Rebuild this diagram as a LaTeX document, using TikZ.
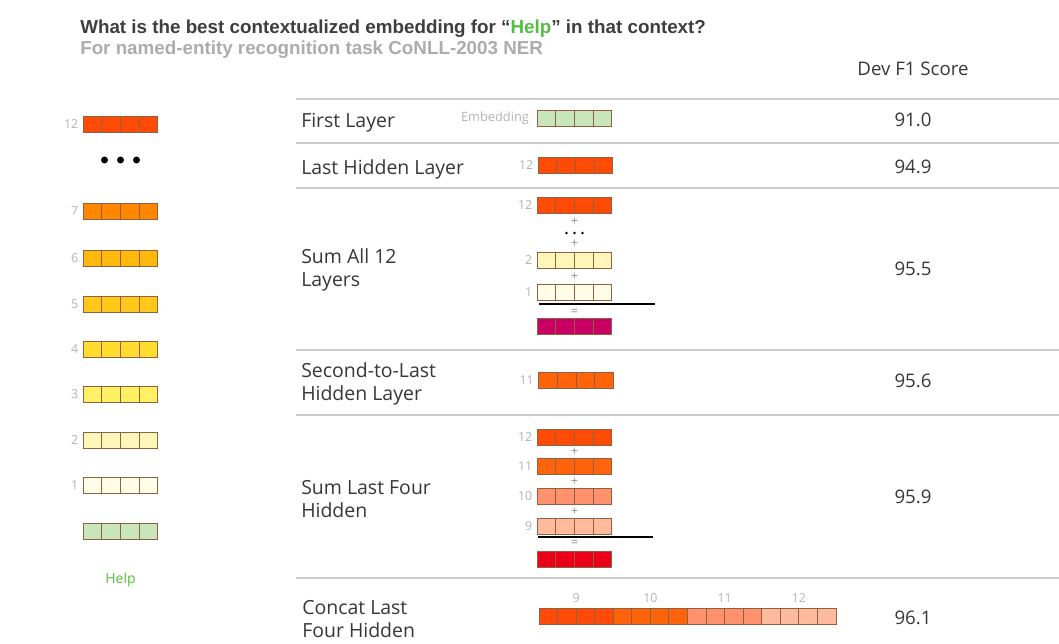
\documentclass[tikz,border=0pt]{standalone}
\usepackage{fontspec}
\setmainfont{Open Sans}
\newfontfamily\headfont{Liberation Sans}
\usetikzlibrary{positioning,calc}
\definecolor{titlegray}{RGB}{62,62,66}
\definecolor{subgray}{RGB}{172,172,172}
\definecolor{textgray}{RGB}{55,55,55}
\definecolor{numgray}{RGB}{180,180,180}
\definecolor{opgray}{RGB}{145,145,145}
\definecolor{rulegray}{RGB}{205,205,205}
\definecolor{cellborder}{RGB}{145,95,65}
\definecolor{helpgreen}{RGB}{85,190,65}
\definecolor{lay12}{RGB}{255,75,5}
\definecolor{lay11}{RGB}{255,100,10}
\definecolor{lay10}{RGB}{255,145,108}
\definecolor{lay9}{RGB}{255,187,157}
\definecolor{lay7}{RGB}{255,135,0}
\definecolor{lay6}{RGB}{255,185,10}
\definecolor{lay5}{RGB}{255,200,25}
\definecolor{lay4}{RGB}{255,220,45}
\definecolor{lay3}{RGB}{255,240,100}
\definecolor{lay2}{RGB}{255,247,185}
\definecolor{lay1}{RGB}{255,253,232}
\definecolor{layemb}{RGB}{200,230,185}
\definecolor{sumall}{RGB}{200,0,100}
\definecolor{sumfour}{RGB}{235,0,25}

% one embedding vector of four cells
\newcommand{\embvec}[4]{%
  \node[vec, fill=#4] (#1) at (#2,#3) {};
  \foreach \k in {1,2,3}
    \draw[cellsep] ($(#1.south west)!\k/4!(#1.south east)$) -- ($(#1.north west)!\k/4!(#1.north east)$);
}

\begin{document}
\begin{tikzpicture}[
    x=0.75pt, y=-0.75pt,
    vec/.style={draw=cellborder, line width=0.7pt, minimum width=56pt, minimum height=12pt, inner sep=0pt, outer sep=0pt},
    cellsep/.style={draw=cellborder, line width=0.7pt},
    lnum/.style={font=\fontsize{9.3}{11}\selectfont, text=numgray, inner sep=0pt},
    op/.style={font=\fontsize{9.5}{10}\selectfont, text=opgray, inner sep=0pt},
    rowlabel/.style={anchor=west, align=left, font=\fontsize{14.6}{17.3}\selectfont, text=textgray, inner sep=0pt},
    score/.style={font=\fontsize{14}{17}\selectfont, text=textgray, inner sep=0pt},
    rowline/.style={draw=rulegray, line width=1.1pt},
    sumline/.style={draw=black, line width=1.1pt}
]
\useasboundingbox[fill=white] (0,0) rectangle (1059,643);

% heading
\node[anchor=base west, inner sep=0pt, font=\headfont\bfseries\fontsize{14.1}{16}\selectfont, text=titlegray] (title) at (80,33)
  {What is the best contextualized embedding for “\textcolor{helpgreen}{Help}” in that context?};
\node[anchor=base west, inner sep=0pt, font=\headfont\bfseries\fontsize{14.1}{16}\selectfont, text=subgray] (subtitle) at (80,54)
  {For named-entity recognition task CoNLL-2003 NER};
\node[score] (devf1) at (913,69) {Dev F1 Score};

% left column: layers of "Help"
\embvec{l12}{120.5}{124}{lay12}
\embvec{l7}{120.5}{211}{lay7}
\embvec{l6}{120.5}{258}{lay6}
\embvec{l5}{120.5}{304}{lay5}
\embvec{l4}{120.5}{349.5}{lay4}
\embvec{l3}{120.5}{394.5}{lay3}
\embvec{l2}{120.5}{440}{lay2}
\embvec{l1}{120.5}{485.5}{lay1}
\embvec{lemb}{120.5}{531}{layemb}
\foreach \n in {12,7,6,5,4,3,2,1}
  \node[lnum, left=3.5pt of l\n] (ln\n) {\n};
\foreach \dx in {-16,0,16}
  \fill (120.5+\dx,160) circle[radius=2.6pt];
\node[font=\fontsize{10.5}{12}\selectfont, text=helpgreen] (help) at (120.5,580) {Help};

% table rules
\foreach \yy in {99,143,188,350,415,578}
  \draw[rowline] (296,\yy) -- (1059,\yy);

% row labels and scores
\node[rowlabel] (r1) at (301,122.5) {First Layer};
\node[rowlabel] (r2) at (301,169.5) {Last Hidden Layer};
\node[rowlabel] (r3) at (301,270) {Sum All 12\\Layers};
\node[rowlabel] (r4) at (301,383.5) {Second-to-Last\\Hidden Layer};
\node[rowlabel] (r5) at (301,499.5) {Sum Last Four\\Hidden};
\node[rowlabel] (r6) at (302,619.5) {Concat Last\\Four Hidden};
\node[score] (s1) at (913,119.5) {91.0};
\node[score] (s2) at (913,166.5) {94.9};
\node[score] (s3) at (913,268.5) {95.5};
\node[score] (s4) at (913,380.5) {95.6};
\node[score] (s5) at (913,496.5) {95.9};
\node[score] (s6) at (913,617.5) {96.1};

% first layer
\embvec{femb}{574.5}{118}{layemb}
\node[lnum, font=\fontsize{9.6}{11}\selectfont, left=6pt of femb] (fembl) {Embedding};

% last hidden layer
\embvec{h12}{575.5}{165.5}{lay12}
\node[lnum, left=3.5pt of h12] {12};

% sum all 12 layers
\embvec{a12}{574.5}{205.5}{lay12}
\embvec{a2}{574.5}{260}{lay2}
\embvec{a1}{574.5}{292}{lay1}
\embvec{asum}{574.5}{326}{sumall}
\node[lnum, left=3.5pt of a12] {12};
\node[lnum, left=3.5pt of a2] {2};
\node[lnum, left=3.5pt of a1] {1};
\node[op] at (574.5,222) {+};
\foreach \dx in {-8,0,8}
  \fill (574.5+\dx,233) circle[radius=1.1pt];
\node[op] at (574.5,244) {+};
\node[op] at (574.5,277) {+};
\draw[sumline] (539,304) -- (655,304);
\node[op] at (574.5,312) {=};

% second-to-last hidden layer
\embvec{b11}{576}{380}{lay11}
\node[lnum, left=3.5pt of b11] {11};

% sum last four hidden
\embvec{f12}{574.5}{437}{lay12}
\embvec{f11}{574.5}{466}{lay11}
\embvec{f10}{574.5}{496}{lay10}
\embvec{f9}{574.5}{526}{lay9}
\embvec{fsum}{574.5}{559}{sumfour}
\foreach \n in {12,11,10,9}
  \node[lnum, left=3.5pt of f\n] {\n};
\node[op] at (574.5,452) {+};
\node[op] at (574.5,482) {+};
\node[op] at (574.5,512) {+};
\draw[sumline] (538,537) -- (653,537);
\node[op] at (574.5,543) {=};

% concat last four hidden
\node[vec, minimum width=55.7pt, fill=lay12] (c9) at (576.1,616) {};
\node[vec, minimum width=55.7pt, fill=lay11, right=0pt of c9] (c10) {};
\node[vec, minimum width=55.7pt, fill=lay10, right=0pt of c10] (c11) {};
\node[vec, minimum width=55.7pt, fill=lay9, right=0pt of c11] (c12) {};
\foreach \n in {9,10,11,12}
  \foreach \k in {1,2,3}
    \draw[cellsep] ($(c\n.south west)!\k/4!(c\n.south east)$) -- ($(c\n.north west)!\k/4!(c\n.north east)$);
\foreach \n in {9,10,11,12}
  \node[lnum, above=4pt of c\n] {\n};
\end{tikzpicture}
\end{document}
